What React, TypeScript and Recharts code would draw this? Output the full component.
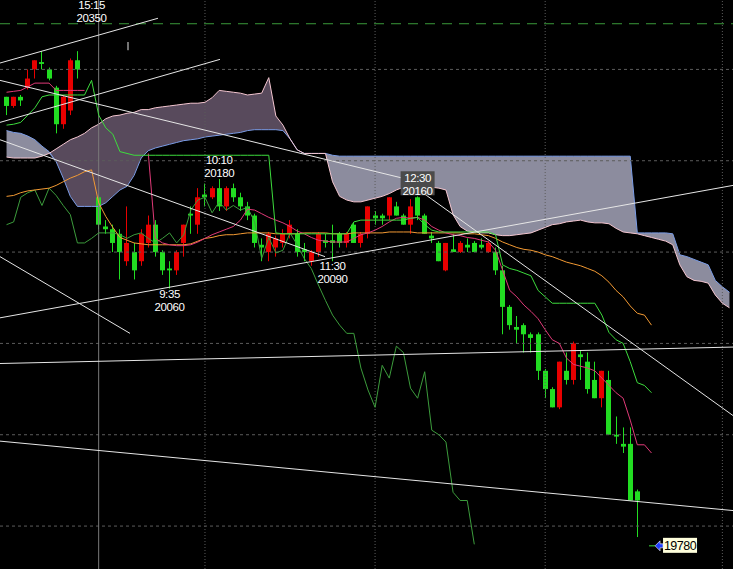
import React from 'react';
import { ComposedChart, XAxis, YAxis, Bar, Line, Area, ReferenceLine, ReferenceDot } from 'recharts';

const SLOT_COUNT = 103;

// [slot, open, high, low, close]  (red = up, green = down)
const candles: [number, number, number, number, number][] = [
  [0, 20270, 20270, 20250, 20260], [1, 20260, 20270, 20258, 20270], [2, 20270, 20272, 20260, 20266],
  [3, 20280, 20300, 20278, 20290], [4, 20300, 20310, 20290, 20310], [5, 20308, 20320, 20300, 20306],
  [6, 20300, 20302, 20288, 20290], [7, 20280, 20282, 20230, 20240], [8, 20240, 20272, 20235, 20270],
  [9, 20255, 20312, 20250, 20310], [10, 20310, 20320, 20290, 20300],
  [13, 20160, 20162, 20125, 20130], [14, 20128, 20135, 20120, 20125], [15, 20125, 20130, 20100, 20110],
  [16, 20120, 20125, 20070, 20100], [17, 20090, 20150, 20085, 20110], [18, 20100, 20110, 20070, 20080],
  [19, 20090, 20125, 20085, 20120], [20, 20110, 20140, 20105, 20130], [21, 20130, 20135, 20095, 20100],
  [22, 20100, 20102, 20075, 20080], [23, 20082, 20090, 20060, 20080], [24, 20080, 20102, 20075, 20100],
  [25, 20110, 20130, 20095, 20130], [26, 20142, 20150, 20120, 20140], [27, 20130, 20170, 20120, 20160],
  [28, 20163, 20175, 20150, 20160], [29, 20160, 20172, 20158, 20170], [30, 20170, 20180, 20145, 20150],
  [31, 20150, 20172, 20145, 20170], [32, 20170, 20175, 20155, 20160], [33, 20160, 20165, 20145, 20150],
  [34, 20150, 20155, 20135, 20140], [35, 20140, 20142, 20105, 20110], [36, 20108, 20115, 20090, 20105],
  [37, 20100, 20122, 20090, 20120], [38, 20105, 20118, 20095, 20115], [39, 20110, 20125, 20105, 20120],
  [40, 20120, 20135, 20115, 20130], [41, 20120, 20125, 20095, 20100], [42, 20103, 20110, 20090, 20100],
  [43, 20090, 20102, 20085, 20100], [44, 20100, 20122, 20095, 20120], [45, 20113, 20120, 20105, 20110],
  [46, 20113, 20130, 20090, 20110], [47, 20120, 20122, 20105, 20110], [48, 20110, 20122, 20105, 20120],
  [49, 20130, 20132, 20110, 20110], [50, 20110, 20122, 20105, 20120], [51, 20120, 20150, 20115, 20150],
  [52, 20140, 20145, 20130, 20137], [53, 20140, 20142, 20130, 20137], [54, 20140, 20160, 20135, 20160],
  [55, 20150, 20155, 20140, 20140], [56, 20140, 20142, 20130, 20130], [57, 20130, 20158, 20120, 20150],
  [58, 20160, 20161, 20135, 20140], [59, 20140, 20142, 20120, 20120], [60, 20118, 20122, 20110, 20115],
  [61, 20110, 20112, 20090, 20090], [62, 20080, 20110, 20079, 20110], [63, 20103, 20120, 20100, 20100],
  [64, 20100, 20112, 20099, 20110], [65, 20108, 20115, 20100, 20105], [66, 20110, 20112, 20100, 20100],
  [67, 20108, 20115, 20103, 20105], [68, 20100, 20112, 20099, 20110], [69, 20100, 20105, 20075, 20080],
  [70, 20080, 20085, 20010, 20040], [71, 20040, 20042, 20015, 20020], [72, 20018, 20030, 20000, 20015],
  [73, 20020, 20022, 19990, 20010], [74, 20010, 20012, 19990, 20006], [75, 20010, 20012, 19960, 19970],
  [76, 19970, 19972, 19940, 19950], [77, 19950, 19952, 19930, 19930], [78, 19930, 19980, 19928, 19980],
  [79, 19970, 19990, 19955, 19960], [80, 19960, 20002, 19955, 20000], [81, 19988, 19992, 19960, 19985],
  [82, 19980, 19990, 19945, 19950], [83, 19960, 19980, 19940, 19940], [84, 19940, 19970, 19930, 19970],
  [85, 19960, 19970, 19900, 19900], [86, 19900, 19920, 19890, 19898], [87, 19890, 19908, 19880, 19887],
  [88, 19890, 19908, 19828, 19828], [89, 19838, 19840, 19788, 19828],
];

const orangeLine = [
  20161, 20162, 20165, 20167, 20168, 20169, 20170, 20173, 20177, 20181,
  20184, 20188, 20190, 20154, 20139, 20127, 20116, 20113, 20110, 20109,
  20108, 20108, 20108, 20108, 20108, 20108, 20109, 20112, 20115, 20116,
  20118, 20119, 20119, 20120, 20121, 20121, 20121, 20121, 20120, 20120,
  20120, 20120, 20121, 20121, 20121, 20121, 20120, 20120, 20120, 20121,
  20121, 20121, 20121, 20121, 20122, 20122, 20122, 20122, 20121, 20121,
  20121, 20121, 20121, 20121, 20121, 20120, 20120, 20119, 20118, 20115,
  20111, 20108, 20105, 20103, 20102, 20100, 20097, 20095, 20092, 20089,
  20087, 20085, 20082, 20079, 20074, 20067, 20058, 20051, 20041, 20033,
  20031, 20020,
];

const pinkLine: (number | null)[] = [
  20275, 20276, 20277, 20281, 20285, 20285, 20285, 20277, 20277, 20277,
  20277, 20277, null, null, null, null, null, null, null, null,
  20208, 20115, 20110, 20108, 20107, 20107, 20108, 20111, 20115, 20119,
  20122, 20125, 20128, 20135, 20147, 20146, 20142, 20138, 20135, 20132,
  20128, 20123, 20120, 20116, 20113, 20112, 20111, 20111, 20111, 20115,
  20119, 20121, 20124, 20128, 20133, 20137, 20138, 20137, 20138, 20135,
  20128, 20124, 20121, 20119, 20118, 20116, 20115, 20113, 20111, 20102,
  20080, 20058, 20051, 20042, 20035, 20027, 20015, 20004, 20000, 19984,
  19977, 19975, 19973, 19970, 19962, 19954, 19946, 19940, 19916, 19889,
  19889, 19880,
];

const kijunLine = [
  20239, 20240, 20242, 20250, 20258, 20270, 20272, 20272, 20272, 20272,
  20272, 20272, 20288, 20250, 20236, 20229, 20210, 20208, 20206, 20206,
  20206, 20206, 20206, 20206, 20206, 20206, 20206, 20206, 20206, 20206,
  20206, 20206, 20206, 20206, 20206, 20206, 20206, 20206, 20121, 20120,
  20120, 20120, 20120, 20120, 20120, 20120, 20120, 20120, 20120, 20133,
  20135, 20135, 20135, 20135, 20135, 20135, 20135, 20137, 20138, 20130,
  20124, 20122, 20122, 20122, 20122, 20122, 20122, 20122, 20122, 20119,
  20086, 20082, 20080, 20077, 20074, 20058, 20051, 20044, 20044, 20044,
  20044, 20044, 20044, 20044, 20031, 20012, 20004, 20000, 19980, 19957,
  19954, 19946,
];

const laggingLine = [
  20130, 20133, 20160, 20165, 20168, 20151, 20170, 20162, 20151, 20141,
  20110, 20110, 20115, 20121, 20121, 20121, 20119, 20115, 20119, 20121,
  20115, 20110, 20115, 20121, 20110, 20119, 20146, 20157, 20160, 20143,
  20155, 20146, 20151, 20146, 20149, 20133, 20093, 20116, 20099, 20102,
  20121, 20108, 20093, 20082, 20064, 20047, 20031, 20020, 20011, 20011,
  19973, 19949, 19930, 19976, 19962, 19997, 19990, 19951, 19940, 19969,
  19905, 19900, 19892, 19837, 19828, 19828, 19780,
];

const spanA = [
  20204, 20203, 20203, 20203, 20203, 20205, 20208, 20213, 20218, 20223,
  20226, 20230, 20236, 20240, 20246, 20249, 20250, 20252, 20253, 20256,
  20256, 20258, 20259, 20260, 20261, 20262, 20263, 20263, 20264, 20269,
  20277, 20276, 20275, 20274, 20272, 20273, 20274, 20291, 20249, 20239,
  20224, 20212, 20208, 20208, 20208, 20208, 20177, 20161, 20157, 20155,
  20155, 20157, 20159, 20161, 20164, 20168, 20171, 20172, 20173, 20172,
  20171, 20170, 20168, 20141, 20128, 20123, 20122, 20121, 20121, 20119,
  20118, 20118, 20119, 20120, 20121, 20124, 20127, 20130, 20131, 20133,
  20134, 20135, 20133, 20132, 20132, 20131, 20126, 20122, 20121, 20120,
  20118, 20116, 20114, 20112, 20108, 20086, 20073, 20069, 20068, 20066,
  20053, 20044, 20039,
];

const spanB = [
  20233, 20231, 20230, 20227, 20223, 20216, 20210, 20199, 20181, 20161,
  20150, 20150, 20150, 20150, 20154, 20161, 20168, 20172, 20184, 20203,
  20211, 20214, 20216, 20218, 20220, 20222, 20223, 20224, 20226, 20227,
  20228, 20229, 20230, 20231, 20233, 20234, 20234, 20234, 20234, 20233,
  20224, 20212, 20208, 20208, 20208, 20208, 20206, 20205, 20205, 20205,
  20205, 20205, 20205, 20205, 20205, 20205, 20205, 20205, 20205, 20205,
  20205, 20205, 20205, 20205, 20205, 20205, 20205, 20205, 20205, 20205,
  20205, 20205, 20205, 20205, 20205, 20205, 20205, 20205, 20205, 20205,
  20205, 20205, 20205, 20205, 20205, 20205, 20205, 20205, 20205, 20121,
  20121, 20121, 20121, 20121, 20120, 20097, 20095, 20092, 20089, 20086,
  20069, 20062, 20056,
];

// [slot1, price1, slot2, price2]
const trendLines: [number, number, number, number][] = [
  [-0.92, 20307, 21.37, 20356],
  [-0.92, 20242, 30.12, 20311],
  [-0.92, 20288, 56.93, 20179],
  [-0.92, 20223, 44.94, 20095],
  [56.93, 20175, 102.5, 19921],
  [-0.92, 20095, 17.42, 20011],
  [-0.92, 20028, 102.5, 20173],
  [-0.92, 19978, 102.5, 19996],
  [-0.92, 19893, 102.5, 19817],
];

const gridPrices = [20300, 20200, 20100, 20000, 19900, 19800];
const gridSlots = [28, 52, 76, 101];
const sessionSlot = 13;
const prevHigh = 20350;

// [slot, price, time, price text, below, boxed]
const peakLabels: [number, number, string, string, boolean, boolean][] = [
  [12, 20350, '15:15', '20350', false, false],
  [30, 20180, '10:10', '20180', false, false],
  [23, 20060, '9:35', '20060', true, false],
  [46, 20090, '11:30', '20090', true, false],
  [58, 20160, '12:30', '20160', false, true],
];

const lastPrice = 19780;
const lastPriceSlot = 91.5;

const UP = '#e80000';
const DOWN = '#22dd22';
const KIJUN = '#3ddc3d';

// the free x axis ("t") starts at the chart's left edge, 0.92 slot before slot 0
const T0 = 0.92;
const tx = (slot: number) => slot + T0;
const T_MAX = tx(102.5);

const candleBySlot = new Map(candles.map((c) => [c[0], c]));

const data = Array.from({ length: SLOT_COUNT }, (_, j) => {
  const k = candleBySlot.get(j);
  const a = spanA[j];
  const b = spanB[j];
  return {
    j,
    t: tx(j),
    range: k ? [k[3], k[2]] : null,
    o: k ? k[1] : null,
    h: k ? k[2] : null,
    l: k ? k[3] : null,
    c: k ? k[4] : null,
    orange: orangeLine[j] ?? null,
    pink: pinkLine[j] ?? null,
    kijun: kijunLine[j] ?? null,
    lag: laggingLine[j] ?? null,
    spanA: a,
    spanB: b,
    bull: a >= b ? [b, a] : [a, a],
    bear: b > a ? [a, b] : [b, b],
  };
});

const Candle = (props: any) => {
  const { x, y, width, height, payload } = props;
  if (!payload || payload.o == null || !height) return null;
  const { o, h, l, c } = payload;
  const k = height / (h - l);
  const yo = y + (h - o) * k;
  const yc = y + (h - c) * k;
  const color = c > o ? UP : DOWN;
  const left = Math.round(x);
  const mid = left + width / 2;
  return (
    <g>
      <line x1={mid} x2={mid} y1={y} y2={y + height} stroke={color} strokeWidth={1} />
      <rect x={left} y={Math.min(yo, yc)} width={width} height={Math.max(Math.abs(yc - yo), 1)} fill={color} />
    </g>
  );
};

const textFont = '"Liberation Sans", Arial, sans-serif';

const PeakLabel = (props: any) => {
  const { cx, cy, time, price, below, boxed } = props;
  const y1 = below ? cy + 9 : cy - 15;
  const y2 = below ? cy + 22 : cy - 2;
  return (
    <g>
      {boxed && <rect x={cx - 17} y={cy - 26} width={34} height={24} fill="#4b4b4b" />}
      <text x={cx} y={y1} textAnchor="middle" fill="#ffffff" fontSize={11.5} letterSpacing={-0.4} fontFamily={textFont}>
        {time}
      </text>
      <text x={cx} y={y2} textAnchor="middle" fill="#ffffff" fontSize={11.5} letterSpacing={-0.4} fontFamily={textFont}>
        {price}
      </text>
    </g>
  );
};

const PriceTag = (props: any) => {
  const { cx, text } = props;
  const cy = props.cy + 1.5;
  const pts = [
    [cx, cy], [cx + 5, cy - 5], [cx + 5, cy - 2], [cx + 8, cy - 2],
    [cx + 8, cy + 2], [cx + 5, cy + 2], [cx + 5, cy + 5],
  ].map((p) => p.join(',')).join(' ');
  return (
    <g>
      <line x1={cx - 6} x2={cx} y1={cy} y2={cy} stroke={KIJUN} />
      <polygon points={pts} fill="#1e3cff" stroke="#ffffff" strokeWidth={0.6} />
      <rect x={cx + 8} y={cy - 8} width={34} height={15} fill="#ffffdc" />
      <text x={cx + 25} y={cy + 4.5} textAnchor="middle" fill="#000000" fontSize={12.5} letterSpacing={-0.5} fontFamily={textFont}>
        {text}
      </text>
    </g>
  );
};

export default function App() {
  return (
    <div style={{ position: 'fixed', left: 0, top: 0, width: 733, height: 569, background: '#000' }}>
      <ComposedChart width={733} height={569} data={data} margin={{ top: 0, right: 0, bottom: 0, left: 0 }}>
        <XAxis dataKey="j" type="category" hide padding={{ left: 3, right: 0 }} />
        <XAxis xAxisId="t" dataKey="t" type="number" domain={[0, T_MAX]} hide allowDataOverflow />
        <YAxis type="number" domain={[19753, 20376]} hide allowDataOverflow />

        <Area dataKey="bull" type="linear" stroke="none" fill="#584a5c" fillOpacity={1} dot={false} activeDot={false} isAnimationActive={false} />
        <Area dataKey="bear" type="linear" stroke="none" fill="#8c8c9e" fillOpacity={1} dot={false} activeDot={false} isAnimationActive={false} />
        <Line dataKey="spanB" type="linear" stroke="#7a9ce6" strokeWidth={1} dot={false} activeDot={false} isAnimationActive={false} />
        <Line dataKey="spanA" type="linear" stroke="#f4c6d0" strokeWidth={1} dot={false} activeDot={false} isAnimationActive={false} />

        {gridPrices.map((p) => (
          <ReferenceLine key={`gp${p}`} xAxisId="t" y={p} stroke="#5c5c5c" strokeDasharray="3 3" />
        ))}
        {gridSlots.map((s) => (
          <ReferenceLine key={`gs${s}`} xAxisId="t" x={tx(s)} stroke="#5c5c5c" strokeDasharray="1 2" />
        ))}
        <ReferenceLine xAxisId="t" x={tx(sessionSlot)} stroke="#7a7a7a" />
        <ReferenceLine xAxisId="t" y={prevHigh} stroke="#3a9a3a" strokeDasharray="10 7" />

        <Line dataKey="lag" type="linear" stroke="#3c9c3c" strokeWidth={1} dot={false} activeDot={false} isAnimationActive={false} />
        <Line dataKey="orange" type="linear" stroke="#f39a33" strokeWidth={1} dot={false} activeDot={false} isAnimationActive={false} />
        <Line dataKey="pink" type="linear" stroke="#e03a78" strokeWidth={1} dot={false} activeDot={false} isAnimationActive={false} />
        <Line dataKey="kijun" type="linear" stroke={KIJUN} strokeWidth={1} dot={false} activeDot={false} isAnimationActive={false} />

        <Bar dataKey="range" barSize={5} shape={<Candle />} isAnimationActive={false} />

        {trendLines.map((t, i) => (
          <ReferenceLine
            key={`tl${i}`}
            xAxisId="t"
            segment={[{ x: tx(t[0]), y: t[1] }, { x: tx(t[2]), y: t[3] }]}
            stroke="#e6e6e6"
            strokeWidth={1}
            ifOverflow="hidden"
          />
        ))}
        <ReferenceLine xAxisId="t" segment={[{ x: tx(17.14), y: 20330 }, { x: tx(17.14), y: 20321 }]} stroke="#e6e6e6" />

        {peakLabels.map((p) => (
          <ReferenceDot
            key={p[2]}
            xAxisId="t"
            x={tx(p[0])}
            y={p[1]}
            r={0}
            shape={(s: any) => <PeakLabel cx={s.cx} cy={s.cy} time={p[2]} price={p[3]} below={p[4]} boxed={p[5]} />}
          />
        ))}
        <ReferenceDot
          xAxisId="t"
          x={tx(lastPriceSlot)}
          y={lastPrice}
          r={0}
          shape={(s: any) => <PriceTag cx={s.cx} cy={s.cy} text={String(lastPrice)} />}
        />
      </ComposedChart>
    </div>
  );
}
